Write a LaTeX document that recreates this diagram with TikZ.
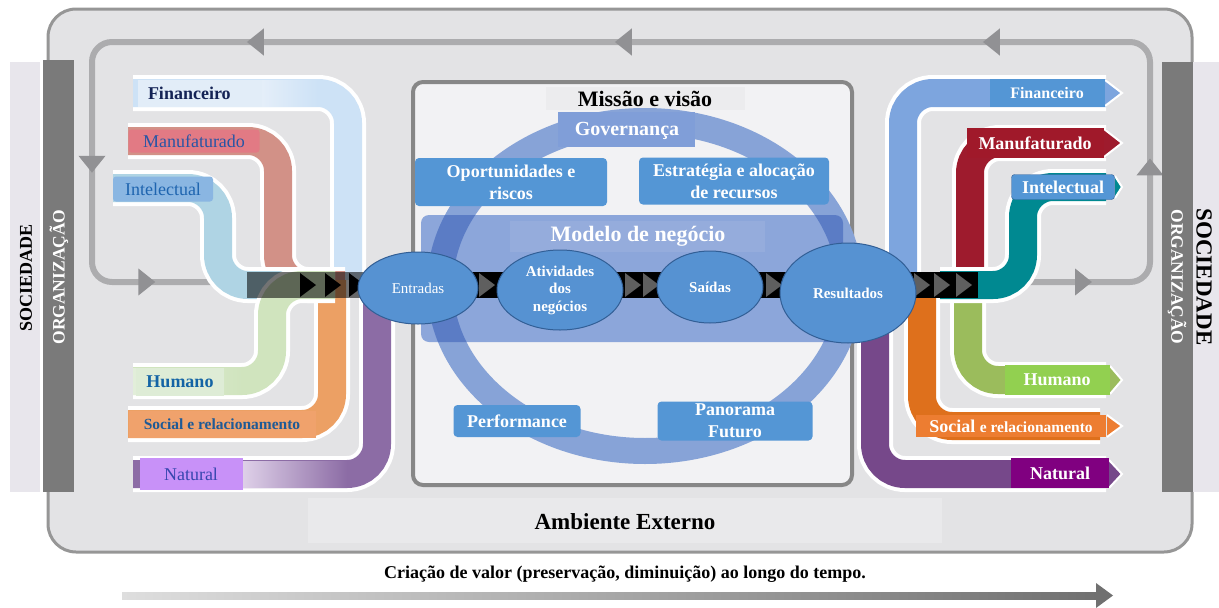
\documentclass[tikz,border=0pt]{standalone}
\usepackage{fontspec}
\setmainfont{Liberation Serif}
\usetikzlibrary{arrows.meta,decorations.markings,positioning,shapes.geometric}

\definecolor{bgc}{RGB}{227,227,229}
\definecolor{framec}{RGB}{150,150,150}
\definecolor{ambc}{RGB}{233,233,235}
\definecolor{loopc}{RGB}{172,172,174}
\definecolor{loopa}{RGB}{145,145,148}
\definecolor{boxline}{RGB}{135,135,135}
\definecolor{boxc}{RGB}{242,242,244}
\definecolor{missc}{RGB}{236,236,238}
\definecolor{ringc}{RGB}{135,163,215}
\definecolor{ringd}{RGB}{75,110,190}
\definecolor{govc}{RGB}{128,158,216}
\definecolor{modc}{RGB}{140,166,218}
\definecolor{capblue}{RGB}{84,150,213}
\definecolor{ellc}{RGB}{86,146,210}
\definecolor{elld}{RGB}{50,95,150}
\definecolor{orgc}{RGB}{122,122,122}
\definecolor{socc}{RGB}{232,230,236}
\definecolor{tric}{RGB}{95,95,95}
% input capitals
\definecolor{finL}{RGB}{205,226,246}
\definecolor{finLa}{RGB}{228,238,249}
\definecolor{manL}{RGB}{210,145,135}
\definecolor{intL}{RGB}{175,212,228}
\definecolor{humL}{RGB}{208,228,190}
\definecolor{humLa}{RGB}{226,238,218}
\definecolor{socL}{RGB}{236,160,100}
\definecolor{natL}{RGB}{140,108,165}
\definecolor{natLa}{RGB}{222,208,232}
\definecolor{finLbox}{RGB}{226,237,248}
\definecolor{manLbox}{RGB}{226,122,132}
\definecolor{intLbox}{RGB}{138,182,226}
\definecolor{humLbox}{RGB}{222,236,214}
\definecolor{socLbox}{RGB}{240,162,108}
\definecolor{natLbox}{RGB}{200,145,248}
\definecolor{finT}{RGB}{20,35,85}
\definecolor{manT}{RGB}{40,85,165}
\definecolor{intT}{RGB}{30,100,175}
\definecolor{humT}{RGB}{20,100,165}
\definecolor{socT}{RGB}{30,90,150}
\definecolor{natT}{RGB}{55,70,175}
% output capitals
\definecolor{finR}{RGB}{125,165,222}
\definecolor{manR}{RGB}{158,27,45}
\definecolor{intR}{RGB}{0,137,145}
\definecolor{humR}{RGB}{155,188,92}
\definecolor{socR}{RGB}{222,112,28}
\definecolor{natR}{RGB}{118,72,138}
\definecolor{manRbox}{RGB}{160,25,42}
\definecolor{humRbox}{RGB}{146,208,80}
\definecolor{socRbox}{RGB}{237,125,49}
\definecolor{natRbox}{RGB}{128,0,128}
\definecolor{arrowa}{RGB}{222,222,222}
\definecolor{arrowb}{RGB}{112,112,112}

\newcommand\fnt[2]{\fontsize{#1}{#2}\selectfont}
\newcommand\capband[2]{\draw[bandrim] #2; \draw[band, draw=#1] #2;}

\tikzset{
  band/.style={line width=28pt, rounded corners=30pt},
  bandrim/.style={band, draw=white, line width=36pt},
  loopline/.style={draw=loopc, line width=6pt, rounded corners=20pt},
  loophead/.tip={Triangle[length=17pt,width=26pt,color=loopa]},
  capbox/.style={fill=capblue, text=white, rounded corners=4pt, align=center, inner sep=0pt, font=\fnt{18}{22}\bfseries},
  proc/.style={ellipse, fill=ellc, draw=elld, line width=1pt, text=white, inner sep=0pt, align=center, font=\fnt{15}{17.5}\bfseries},
  inlbl/.style={inner sep=0pt, align=center, font=\fnt{18}{20}},
  outlbl/.style={inner sep=0pt, align=center, text=white, font=\fnt{18}{20}\bfseries},
  sidetxt/.style={inner sep=0pt, font=\fnt{18}{20}\bfseries},
}

\begin{document}
\begin{tikzpicture}[x=1pt,y=-1pt]
\useasboundingbox (0,0) rectangle (1219,608);

% external environment
\draw[draw=framec, line width=3pt, fill=bgc, rounded corners=28pt] (48,9) rectangle (1192,552);
\fill[ambc] (308,498) rectangle (942,543);

% feedback loop
\draw[loopline, postaction={decorate}, decoration={markings,
    mark=at position 62pt with {\arrow{loophead}},
    mark=at position 235pt with {\arrow{loophead}},
    mark=at position 510pt with {\arrow{loophead}},
    mark=at position 878pt with {\arrow{loophead}},
    mark=at position 1246pt with {\arrow{loophead}},
    mark=at position 1523pt with {\arrow{loophead}},
    mark=at position 1687pt with {\arrow{loophead}}}]
  (1030,282) -- (1150,282) -- (1150,42) -- (92,42) -- (92,282) -- (252,282);

% organisation box
\draw[draw=boxline, line width=4pt, fill=boxc, rounded corners=10pt] (413,82) rectangle (852,485);
\fill[missc] (546,87) rectangle (745,110);
\node[font=\fnt{22}{24}\bfseries] (missao) at (645,99) {Missão e visão};

\draw[ringc, line width=26pt] (645,286) ellipse [x radius=205pt, y radius=165pt];
\fill[govc] (558,112) rectangle (695,147);
\node[text=white, font=\fnt{20}{22}\bfseries] (gov) at (627,131) {Governança};

\fill[modc, rounded corners=8pt] (421,215) rectangle (843,342);
\begin{scope}
  \clip[rounded corners=8pt] (421,215) rectangle (843,342);
  \draw[ringd, line width=26pt, opacity=0.75] (645,286) ellipse [x radius=205pt, y radius=165pt];
\end{scope}
\fill[white, opacity=0.08] (510,221) rectangle (765,252);
\node[text=white, font=\fnt{22}{24}\bfseries] (modelo) at (638,236) {Modelo de negócio};

\node[capbox, minimum width=192pt, minimum height=48pt] (oport) at (511,182) {Oportunidades e\\riscos};
\node[capbox, minimum width=190pt, minimum height=47pt] (estrat) at (734,181) {Estratégia e alocação\\de recursos};
\node[capbox, minimum width=127pt, minimum height=32pt] (perf) at (517,421) {Performance};
\node[capbox, minimum width=155pt, minimum height=39pt] (panor) at (735,421) {Panorama\\Futuro};

% input capitals
\capband{finL}{(133,93) -- (348,93) -- (348,290)}
\shade[left color=finLa, right color=finL] (262,80) rectangle (318,106);
\capband{manL}{(128,141) -- (278,141) -- (278,285) -- (345,285)}
\capband{intL}{(113,188) -- (218,188) -- (218,285) -- (300,285)}
\capband{natL}{(133,474) -- (377,474) -- (377,280)}
\shade[left color=natLa, right color=natL] (243,461) rectangle (347,487);
\capband{socL}{(128,424) -- (332,424) -- (332,280)}
\capband{humL}{(133,381) -- (272,381) -- (272,285) -- (335,285)}
\shade[left color=humLa, right color=humL] (133,368) rectangle (242,394);

\node[inlbl, fill=finLbox, text=finT, font=\fnt{18}{20}\bfseries, text width=104pt, inner xsep=10pt, align=left, minimum height=27pt] (finIn) at (200,93) {Financeiro};
\node[inlbl, fill=manLbox, text=manT, rounded corners=3pt, minimum width=131pt, minimum height=23pt] (manIn) at (194,141) {Manufaturado};
\node[inlbl, fill=intLbox, text=intT, rounded corners=3pt, minimum width=100pt, minimum height=25pt] (intIn) at (163,189) {Intelectual};
\node[inlbl, fill=humLbox, text=humT, font=\fnt{18}{20}\bfseries, minimum width=88pt, minimum height=28pt] (humIn) at (180,382) {Humano};
\node[inlbl, fill=socLbox, text=socT, font=\fnt{15.5}{18}\bfseries, minimum width=187pt, minimum height=27pt] (socIn) at (222,424) {Social e relacionamento};
\node[inlbl, fill=natLbox, text=natT, minimum width=103pt, minimum height=32pt] (natIn) at (191,474) {Natural};

% output capitals
\capband{finR}{(903,292) -- (903,93) -- (1106,93)}
\capband{natR}{(875,280) -- (875,474) -- (1106,474)}
\capband{socR}{(922,280) -- (922,426) -- (1100,426)}
\capband{humR}{(968,280) -- (968,380) -- (1106,380)}
\capband{manR}{(970,292) -- (970,143) -- (1106,143)}
\capband{intR}{(940,285) -- (1023,285) -- (1023,187) -- (1106,187)}

\foreach \yy/\xx/\hh/\cc in {93/1105/13/finR, 143/1104/14/manR, 187/1115/11/intR, 380/1110/14/humR, 426/1107/11/socRbox, 474/1109/14/natR}
  \draw[white, line width=2pt, fill=\cc] (\xx,\yy-\hh) -- (1122,\yy) -- (\xx,\yy+\hh);

\node[outlbl, fill=capblue, font=\fnt{16}{18}\bfseries, minimum width=115pt, minimum height=28pt] (finOut) at (1047,93) {Financeiro};
\node[outlbl, fill=manRbox, minimum width=137pt, minimum height=30pt] (manOut) at (1035,143) {Manufaturado};
\node[outlbl, fill=capblue, draw=elld, rounded corners=3pt, minimum width=103pt, minimum height=25pt] (intOut) at (1063,187) {Intelectual};
\node[outlbl, fill=humRbox, minimum width=105pt, minimum height=30pt] (humOut) at (1057,380) {Humano};
\node[outlbl, fill=socRbox, minimum width=190pt, minimum height=22pt] (socOut) at (1011,426) {Social {\fnt{15.5}{18}e relacionamento}};
\node[outlbl, fill=natRbox, minimum width=98pt, minimum height=30pt] (natOut) at (1060,473) {Natural};

% value chain strip
\fill[black, opacity=0.55] (247,272) rectangle (372,298);
\fill[black] (372,272) rectangle (978,298);
\foreach \t in {300,325,349}
  \fill[black] (\t,273) -- (\t+16,285) -- (\t,297) -- cycle;
\foreach \t in {479,625,643,766,914,934,956}
  \fill[tric] (\t,273) -- (\t+16,285) -- (\t,297) -- cycle;

\node[proc, font=\fnt{15}{17.5}, minimum width=120pt, minimum height=72pt] (entradas) at (418,288) {Entradas};
\node[proc, minimum width=126pt, minimum height=80pt] (ativ) at (560,290) {Atividades\\dos\\negócios};
\node[proc, minimum width=106pt, minimum height=72pt] (saidas) at (710,287) {Saídas};
\node[proc, minimum width=136pt, minimum height=100pt] (result) at (848,293) {Resultados};

% society / organisation bands
\fill[socc] (10,62) rectangle (40,492);
\fill[orgc] (43,60) rectangle (74,492);
\fill[orgc] (1162,62) rectangle (1193,492);
\fill[socc] (1193,62) rectangle (1219,492);
\node[sidetxt, rotate=90] (socLeft) at (26,278) {SOCIEDADE};
\node[sidetxt, rotate=90, text=white, font=\fnt{17.5}{20}\bfseries] (orgLeft) at (59,277) {ORGANIZAÇÃO};
\node[sidetxt, rotate=-90, text=white, font=\fnt{17.5}{20}\bfseries] (orgRight) at (1177,277) {ORGANIZAÇÃO};
\node[sidetxt, rotate=-90, font=\fnt{23}{25}\bfseries] (socRight) at (1204,277) {SOCIEDADE};

\node[font=\fnt{23}{25}\bfseries] (ambiente) at (625,522) {Ambiente Externo};

% time axis
\node[font=\fnt{18}{20}\bfseries] (tempo) at (625,574) {Criação de valor (preservação, diminuição) ao longo do tempo.};
\shade[left color=arrowa, right color=arrowb] (122,592) rectangle (1098,599);
\fill[arrowb] (1096,583) -- (1113,595.5) -- (1096,608) -- cycle;
\end{tikzpicture}
\end{document}
